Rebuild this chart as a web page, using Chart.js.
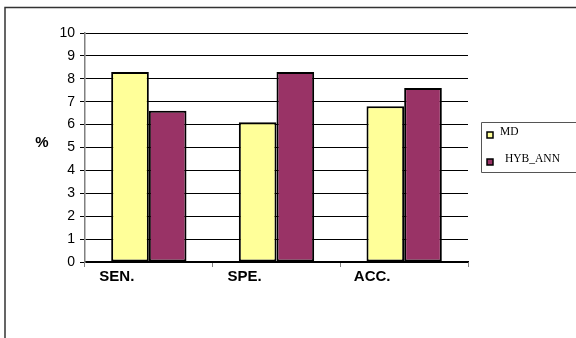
<!DOCTYPE html>
<html>
<head>
<meta charset="utf-8">
<title>MD vs HYB_ANN</title>
<script src="https://cdn.jsdelivr.net/npm/chart.js@4/dist/chart.umd.min.js"></script>
<style>
  html, body { margin: 0; padding: 0; background: #fff; overflow: hidden; }
  canvas { display: block; }
</style>
</head>
<body>
<canvas id="chart" width="576" height="338"></canvas>
<script>
// data
const categories = ['SEN.', 'SPE.', 'ACC.'];
const seriesNames = ['MD', 'HYB_ANN'];
const mdValues = [8.3, 6.1, 6.8];
const hybValues = [6.6, 8.3, 7.6];
const yTicks = [0, 1, 2, 3, 4, 5, 6, 7, 8, 9, 10];

const colors = ['#FFFF99', '#993366'];

// frame, "%" label and the boxed legend (Excel style)
const decorPlugin = {
    id: 'decor',
    afterDraw(chart) {
        const ctx = chart.ctx;
        const area = chart.chartArea;
        ctx.save();

        // outer frame, only left and top show (rest runs off the page)
        ctx.strokeStyle = '#333';
        ctx.lineWidth = 1.5;
        ctx.beginPath();
        ctx.moveTo(5, 338);
        ctx.lineTo(5, 7.5);
        ctx.lineTo(576, 7.5);
        ctx.stroke();

        // axis title "%"
        ctx.fillStyle = '#000';
        ctx.font = 'bold 15px "Liberation Sans", Arial, sans-serif';
        ctx.textAlign = 'center';
        ctx.textBaseline = 'middle';
        ctx.fillText('%', 42, (area.top + area.bottom) / 2 - 5);

        // legend box, cut off at the right edge
        const lx = 481.5, ly = 122.5, lb = 172.5;
        ctx.strokeStyle = '#555';
        ctx.lineWidth = 1;
        ctx.beginPath();
        ctx.moveTo(576, ly);
        ctx.lineTo(lx, ly);
        ctx.lineTo(lx, lb);
        ctx.lineTo(576, lb);
        ctx.stroke();

        ctx.font = '11.5px "Liberation Serif", "Times New Roman", serif';
        ctx.textAlign = 'left';
        ctx.textBaseline = 'alphabetic';
        chart.data.datasets.forEach((ds, i) => {
            const sy = i === 0 ? 132 : 159;
            ctx.fillStyle = ds.backgroundColor;
            ctx.fillRect(487, sy, 6, 6);
            ctx.strokeStyle = '#000';
            ctx.lineWidth = 1.5;
            ctx.strokeRect(487, sy, 6, 6);
            ctx.fillStyle = '#000';
            const tx = i === 0 ? 500 : 505;
            const ty = i === 0 ? 135 : 162;
            ctx.fillText(ds.label, tx, ty);
        });
        ctx.restore();
    }
};

new Chart(document.getElementById('chart'), {
    type: 'bar',
    data: {
        labels: categories,
        datasets: [
            {
                label: seriesNames[0],
                data: mdValues,
                backgroundColor: colors[0],
                borderColor: '#000',
                borderWidth: 2,
                borderSkipped: false,
                categoryPercentage: 0.59,
                barPercentage: 1.0
            },
            {
                label: seriesNames[1],
                data: hybValues,
                backgroundColor: colors[1],
                borderColor: '#000',
                borderWidth: 2,
                borderSkipped: false,
                categoryPercentage: 0.59,
                barPercentage: 1.0
            }
        ]
    },
    options: {
        responsive: false,
        animation: false,
        devicePixelRatio: 1,
        layout: { padding: { left: 0, right: 108, top: 33, bottom: 0 } },
        plugins: {
            legend: { display: false },
            tooltip: { enabled: false },
            title: { display: false }
        },
        scales: {
            x: {
                afterFit: (scale) => { scale.height = 76; },
                grid: {
                    offset: true,
                    drawOnChartArea: false,
                    tickLength: 5,
                    color: '#808080'
                },
                border: { color: '#000', width: 1.5 },
                ticks: {
                    color: '#000',
                    padding: 1,
                    labelOffset: -32,
                    maxRotation: 0,
                    font: { family: '"Liberation Sans", Arial, sans-serif', size: 15, weight: 'bold' }
                }
            },
            y: {
                min: yTicks[0],
                max: yTicks[yTicks.length - 1],
                afterFit: (scale) => { scale.width = 85; },
                afterBuildTicks: (scale) => { scale.ticks = yTicks.map(v => ({ value: v })); },
                grid: {
                    color: '#000',
                    lineWidth: 1,
                    tickLength: 5
                },
                border: { color: '#808080', width: 1.5 },
                ticks: {
                    color: '#000',
                    padding: 5,
                    font: { family: '"Liberation Sans", Arial, sans-serif', size: 14 }
                }
            }
        }
    },
    plugins: [decorPlugin]
});
</script>
</body>
</html>
